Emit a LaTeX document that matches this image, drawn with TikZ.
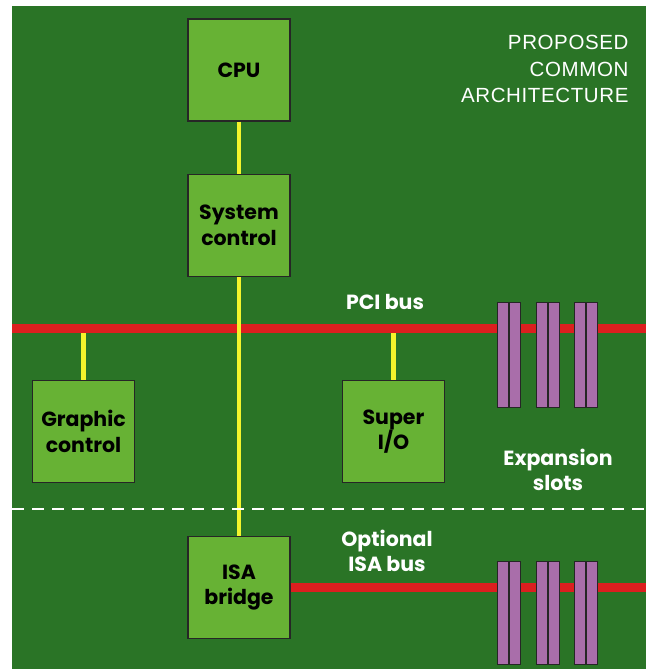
\documentclass[tikz,border=0pt]{standalone}
\usepackage{fontspec}
\setmainfont{Liberation Sans}
\newfontfamily\chipfont{Poppins}
\usepackage{xcolor}
\usepackage{tikz}
\usetikzlibrary{positioning,calc}
\definecolor{board}{HTML}{2A7426}
\definecolor{chip}{HTML}{67B234}
\definecolor{busred}{HTML}{DC1F1F}
\definecolor{slotpink}{HTML}{A96EAA}
\definecolor{wirey}{HTML}{F4F42C}
\begin{document}
\begin{tikzpicture}[x=1pt,y=-1pt,
  every node/.style={font=\chipfont\bfseries\fontsize{20.5}{25.5}\selectfont},
  box/.style={draw=black!85,line width=1.2pt,fill=chip,minimum width=102pt,minimum height=102pt,inner sep=0pt,align=center},
  lbl/.style={text=white,align=center,inner sep=1pt},
  half/.style={draw=black!85,line width=1.2pt,fill=slotpink,minimum width=11pt,inner sep=0pt},
  bus/.style={busred,line width=9pt},
  wire/.style={wirey,line width=4.5pt}]
 \useasboundingbox (0,0) rectangle (646,669);
 \fill[board] (12,6) rectangle (646,669);
 \node[font=\fontsize{20.5}{26.5}\selectfont\addfontfeature{LetterSpace=3},text=white,align=right,anchor=north east] (title) at (632,32) {PROPOSED\\COMMON\\ARCHITECTURE};
 \node[box] (cpu)     at (239,70)    {CPU};
 \node[box] (sysctl)  at (239,225.5) {System\\control};
 \node[box] (gfx)     at (83.5,431.5) {Graphic\\control};
 \node[box] (superio) at (393.5,431.5) {Super\\I/O};
 \node[box] (isabr)   at (239,587.5) {ISA\\bridge};
 \node[lbl] (pcilbl) at (385,302) {PCI bus};
 \node[lbl] (explbl) at (558,470) {Expansion\\slots};
 \node[lbl] (isalbl) at (387,551) {Optional\\ISA bus};
 % buses
 \coordinate (pcil) at (12,328);
 \coordinate (pcir) at (646,328);
 \coordinate (isar) at (646,587);
 \foreach \a in {gfx,superio}
   \draw[wire] (\a.north |- pcil) -- (\a.north);
 \draw[bus] (pcil) -- (pcir);
 \draw[bus] (isabr.east) -- (isabr.east -| isar);
 \draw[wire] (cpu) -- (sysctl);
 \draw[wire] (sysctl) -- (isabr);
 % slots
 \foreach \x [count=\i] in {497,536,574}{
   \node[half,minimum height=105pt,anchor=north west] (pa\i) at (\x,302) {};
   \node[half,minimum height=105pt,anchor=north west] (pb\i) at (pa\i.north east) {};
   \node[half,minimum height=103pt,anchor=north west] (ia\i) at (\x,561) {};
   \node[half,minimum height=103pt,anchor=north west] (ib\i) at (ia\i.north east) {};
 }
 \coordinate (dl) at (12,509);
 \coordinate (dr) at (646,509);
 \draw[white,line width=1.8pt,dash pattern=on 12pt off 8pt] (dl) -- (dr);
\end{tikzpicture}
\end{document}
